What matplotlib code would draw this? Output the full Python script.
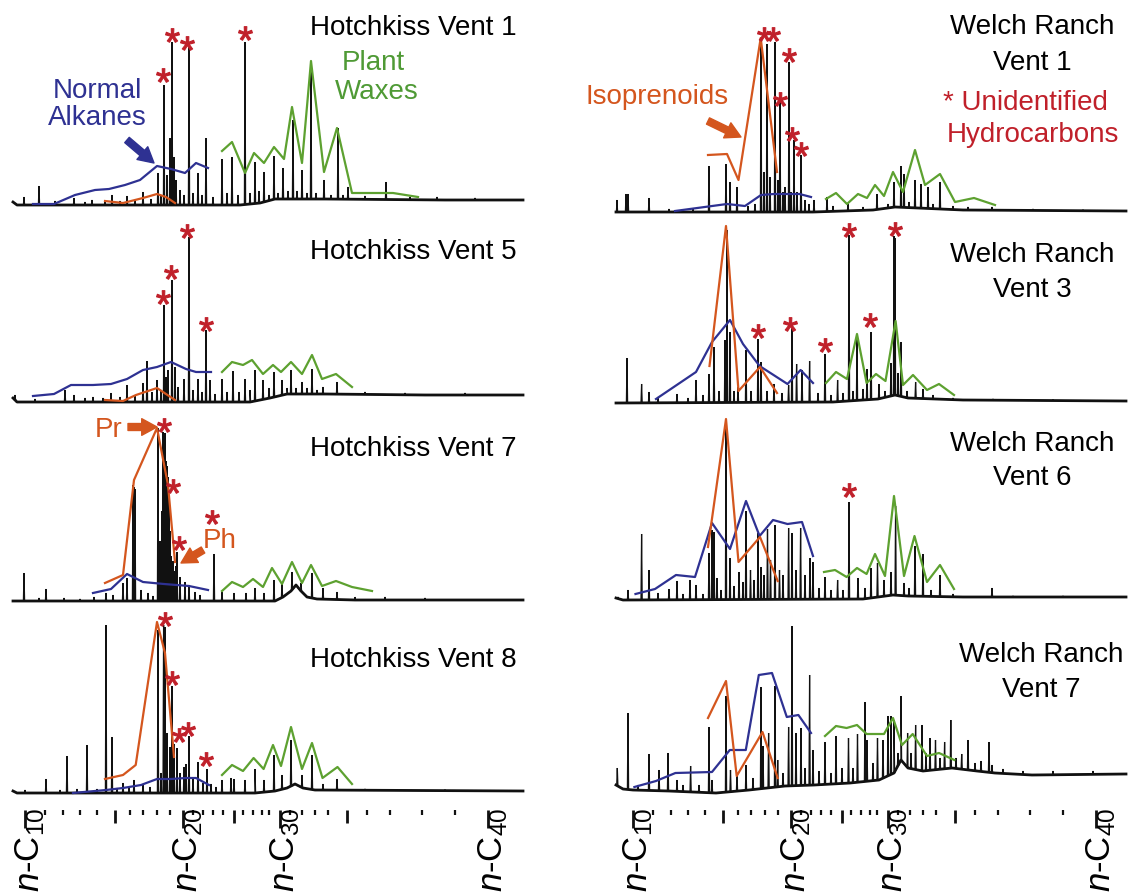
import matplotlib
matplotlib.use("Agg")
import matplotlib.pyplot as plt
import numpy as np

plt.rcParams.update({
    "font.family": ["Liberation Sans", "DejaVu Sans"],
    "font.size": 20,
    "mathtext.fontset": "custom",
    "mathtext.rm": "Liberation Sans",
    "mathtext.it": "Liberation Sans:italic",
    "mathtext.bf": "Liberation Sans:bold",
})

BLACK = "#111111"
BLUE = "#2e3192"
ORANGE = "#d4561e"
GREEN = "#5da130"
GREEN_TXT = "#4f9a35"
RED = "#c0202a"

# retention position of the n-alkanes C10..C40 (px from n-C10)
CARBON = list(range(10, 41))
CARBON_RT = [0, 20, 38, 55, 72, 90, 105, 118, 132, 145, 158, 168, 178, 188, 198, 209,
             218, 228, 237, 244, 255, 265, 277, 290, 303, 322, 342, 365, 397, 430, 463]
AXIS_LABELS = {10: r"$n$-C$_{10}$", 20: r"$n$-C$_{20}$", 30: r"$n$-C$_{30}$", 40: r"$n$-C$_{40}$"}

# ---------------- Hotchkiss Vent 1 ----------------
HV1_BASE = [(-12, 3), (-8, 0), (215, 0), (235, 2), (250, 6), (300, 6), (420, 5), (498, 5)]
HV1_PEAKS = [(-1, 8), (14, 19), (30, 4), (49, 7), (60, 3), (67, 5), (80, 4), (87, 10), (95, 4),
             (102, 9), (110, 5), (118, 13), (126, 6), (133, 32), (136, 10), (139, 120), (142, 30),
             (145, 67), (147, 163), (149, 48), (151, 25), (155, 15), (159, 10), (164, 158),
             (168, 12), (173, 32), (177, 10), (181, 67), (188, 8), (197, 46), (202, 12), (207, 48),
             (213, 10), (220, 163), (225, 12), (230, 43), (234, 14), (239, 33), (244, 10),
             (249, 49), (253, 12), (258, 37), (263, 14), (268, 85), (272, 14), (277, 35),
             (282, 12), (286, 138), (291, 12), (299, 25), (306, 10), (313, 77), (318, 10),
             (323, 18), (340, 9), (361, 23), (385, 8), (412, 8), (450, 7)]
HV1_ALK = [(8, 1), (29, 1), (50, 10), (70, 15), (84, 16), (100, 20), (115, 25), (132, 39),
           (146, 36), (160, 32), (171, 42), (183, 37)]
HV1_ISO = [(80, 4), (98, 2), (118, 7), (132, 11), (141, 8), (150, 2)]
HV1_WAX = [(197, 54), (207, 63), (220, 32), (229, 52), (239, 42), (249, 58), (259, 46),
           (267, 98), (277, 42), (286, 144), (299, 33), (312, 77), (327, 12), (368, 12), (393, 8)]
HV1_STARS = [(138, 130), (147, 170), (162, 162), (220, 172)]

# ---------------- Hotchkiss Vent 5 ----------------
HV5_BASE = [(-12, 4), (-8, 0), (225, 0), (245, 4), (262, 8), (300, 8), (400, 7), (498, 7)]
HV5_PEAKS = [(-10, 7), (10, 3), (40, 12), (49, 7), (60, 4), (68, 5), (78, 4), (86, 9), (95, 5),
             (102, 17), (110, 6), (118, 19), (122, 41), (127, 10), (132, 22), (136, 12),
             (139, 97), (141, 25), (143, 32), (147, 122), (150, 35), (153, 15), (159, 23),
             (164, 165), (168, 12), (173, 23), (177, 10), (181, 72), (185, 22), (190, 8),
             (197, 23), (202, 10), (208, 31), (214, 10), (220, 23), (225, 12), (230, 32),
             (238, 22), (244, 14), (249, 30), (257, 22), (262, 14), (266, 32), (271, 14),
             (277, 20), (282, 14), (287, 33), (292, 12), (298, 15), (312, 20), (340, 10),
             (380, 9), (440, 9)]
HV5_ALK = [(8, 6), (29, 8), (46, 17), (68, 17), (86, 18), (102, 23), (118, 32), (132, 35),
           (146, 40), (161, 33), (171, 30), (186, 30)]
HV5_ISO = [(80, 2), (98, 1), (111, 7), (132, 14), (150, 2)]
HV5_WAX = [(197, 30), (207, 40), (218, 37), (227, 42), (238, 28), (248, 37), (256, 30),
           (266, 40), (277, 28), (287, 47), (297, 23), (311, 28), (327, 15)]
HV5_STARS = [(138, 105), (146, 130), (162, 171), (181, 78)]

# ---------------- Hotchkiss Vent 7 ----------------
HV7_BASE = [(-12, 0), (250, 0), (258, 4), (266, 10), (271, 16), (276, 10), (282, 4),
            (292, 2), (330, 1), (498, 1)]
HV7_PEAKS = [(-1, 28), (14, 3), (21, 12), (39, 3), (55, 2), (69, 4), (81, 8), (88, 6), (98, 18),
             (102, 23), (108, 116), (109, 114), (110, 112), (116, 11), (123, 8), (128, 5),
             (133, 173), (135, 60), (137, 90), (138, 169), (139, 150), (140, 168), (141, 140),
             (142, 135), (143, 124), (144, 100), (145, 70), (146, 45), (147, 32), (148, 40),
             (149, 30), (150, 28), (151, 35), (152, 49), (155, 24), (160, 19), (164, 16),
             (170, 9), (175, 6), (189, 47), (197, 9), (209, 8), (221, 8), (230, 13), (239, 8),
             (249, 21), (257, 19), (267, 29), (276, 18), (287, 28), (298, 13), (312, 9),
             (330, 4), (360, 4), (400, 3)]
HV7_ALK = [(68, 8), (86, 12), (102, 27), (118, 19), (139, 17), (164, 15), (183, 11)]
HV7_ISO = [(80, 18), (98, 26), (109, 121), (132, 173), (143, 116), (150, 39)]
HV7_WAX = [(197, 10), (207, 19), (218, 14), (228, 22), (238, 14), (247, 33), (257, 17),
           (267, 39), (277, 18), (286, 36), (297, 15), (311, 20), (327, 14), (347, 10)]
HV7_STARS = [(138.6, 176), (147.5, 115), (154.3, 58), (186.8, 84)]

# ---------------- Hotchkiss Vent 8 ----------------
HV8_BASE = [(-12, 2), (-8, 0), (230, 0), (250, 2), (262, 5), (270, 9), (278, 5), (290, 3), (498, 2)]
HV8_PEAKS = [(0, 3), (21, 14), (35, 3), (42, 37), (52, 4), (62, 48), (72, 4), (81, 168),
             (87, 56), (92, 5), (98, 10), (104, 6), (109, 13), (118, 9), (125, 6), (133, 163),
             (136, 20), (138.6, 168), (140, 166), (142, 60), (145, 46), (147, 107), (149, 49),
             (152, 45), (155, 20), (159, 26), (161, 29), (164, 57), (168, 14), (173, 31),
             (178, 10), (182, 24), (186, 9), (191, 6), (197, 13), (206, 15), (209, 14),
             (220, 13), (230, 24), (239, 13), (249, 38), (257, 18), (266, 53), (277, 18),
             (287, 38), (298, 9), (312, 14), (340, 4), (420, 3)]
HV8_ALK = [(48, 0), (81, 3), (98, 5), (116, 8), (132, 14), (146, 14), (161, 15), (171, 15), (184, 8)]
HV8_ISO = [(80, 14), (98, 18), (110.7, 28), (132, 171), (140, 140), (149, 36)]
HV8_WAX = [(197, 18), (207, 28), (218, 22), (228.6, 35), (238.6, 24), (248, 48), (256, 27),
           (266, 66), (277, 24), (287, 50), (297.5, 15), (312.5, 26), (327, 9)]
HV8_STARS = [(140, 174), (147, 115), (154, 58), (162.5, 64), (181.4, 34)]

# ---------------- Welch Ranch Vent 1 ----------------
WR1_BASE = [(-17, 0), (180, 0), (240, 2), (262, 5), (285, 4), (330, 2), (493, 1)]
WR1_PEAKS = [(-16, 12), (-7, 18), (-5, 18), (16, 14), (36, 3), (60, 3), (76, 46), (93, 48),
             (97, 30), (104, 25), (115, 6), (122, 8), (128, 168), (131, 40), (134, 168),
             (137, 35), (142, 170), (145, 32), (147, 115), (150, 20), (152, 25), (156, 150),
             (158, 20), (161, 72), (164, 20), (168, 57), (172, 12), (176, 8), (181, 12),
             (194, 15), (200, 6), (215, 8), (230, 5), (244, 18), (255, 8), (261, 30), (268, 46),
             (271, 38), (276, 10), (282, 32), (288, 28), (295, 25), (300, 8), (307, 30),
             (320, 6), (335, 5), (359, 5), (400, 3), (450, 2)]
WR1_ALK = [(42, 1), (94, 8), (112, 6), (128, 17), (141, 18), (166.5, 18), (178, 15)]
WR1_ISO = [(75, 57), (94, 58), (105.5, 32), (127.7, 174), (144, 40)]
WR1_WAX = [(193, 13), (203, 19), (214, 8), (225, 18), (234, 14), (242, 27), (251, 16),
           (260, 40), (270, 20), (282, 62), (292, 27), (307, 38), (322, 10), (341, 14), (362, 7)]
WR1_STARS = [(131.3, 178), (140.3, 178), (147.2, 113), (155.6, 157), (159.2, 78), (167.6, 63)]

# ---------------- Welch Ranch Vent 3 ----------------
WR3_BASE = [(-17, 0), (200, 1), (245, 4), (262, 8), (275, 5), (330, 3), (493, 2)]
WR3_PEAKS = [(-6, 45), (8.6, 19), (16, 11), (25, 6), (44, 9), (55, 5), (63, 23), (70, 8),
             (76, 29), (81, 56), (86, 12), (92, 63), (94, 173), (97, 71), (101, 12), (105, 16),
             (113, 53), (118, 12), (125, 64), (128, 41), (134, 12), (141, 19), (149, 10),
             (155.6, 18), (159, 75), (163.6, 39), (169, 33), (176.6, 42), (185, 10), (192, 49),
             (198, 8), (204.6, 23), (210, 10), (216, 168), (220, 12), (224, 66), (230, 14),
             (234, 34), (238, 71), (246, 19), (252, 12), (258, 40), (261, 167), (262, 165),
             (265, 30), (268, 61), (274, 12), (282.6, 21), (290, 14), (300, 8), (320, 5),
             (360, 4), (420, 3)]
WR3_ALK = [(23, 4), (63, 31), (79, 61), (97, 83), (110, 59), (126.6, 37), (154.5, 19),
           (167.6, 33), (180, 20)]
WR3_ISO = [(76.5, 37), (93, 177), (105.5, 12), (127, 36), (144, 10)]
WR3_WAX = [(193, 20), (203, 31), (214, 24), (224, 69), (233.6, 20), (243, 29), (252.5, 22),
           (262.6, 82), (270, 18), (280, 28), (294, 13), (306, 19), (321, 8)]
WR3_STARS = [(125, 72), (157.4, 79), (192, 58), (216.2, 173), (237.2, 83), (261.5, 174)]

# ---------------- Welch Ranch Vent 6 ----------------
WR6_BASE = [(-17, 2), (-10, 0), (230, 1), (260, 5), (275, 4), (330, 3), (493, 3)]
WR6_PEAKS = [(-15, 3), (-5, 10), (8.6, 66), (16, 30), (25, 7), (36, 11), (44, 19), (50, 6),
             (57, 20), (63, 15), (70, 6), (76, 47), (79, 70), (81, 68), (84, 22), (88, 10),
             (93, 180), (97, 42), (101, 14), (106, 28), (110, 18), (113, 89), (117.5, 30),
             (121, 20), (125, 67), (128, 33), (131, 25), (134.5, 71), (137.5, 40), (142, 75),
             (146.5, 30), (150, 25), (155.6, 72), (159, 67), (163, 30), (167.6, 72), (172, 25),
             (177, 42), (180, 38), (186, 12), (192, 23), (198, 10), (204.6, 20), (210, 10),
             (216, 98), (225, 22), (232, 12), (238, 32), (244.5, 37), (251, 20), (258, 28),
             (262.6, 94), (271, 17), (276, 12), (282, 54), (290, 46), (298, 10), (307, 25),
             (320, 6), (359, 12), (380, 4), (430, 3)]
WR6_ALK = [(2.5, 6), (22, 11), (43, 25), (62, 23), (79, 77), (97, 51), (113, 99), (126.6, 64),
           (140, 80), (154.5, 76), (169, 78), (180, 44)]
WR6_ISO = [(75, 53), (93, 181), (105.5, 38), (127, 63), (144.7, 19)]
WR6_WAX = [(191, 28), (202, 30), (213.6, 23), (224, 32), (233.6, 26), (242, 46), (252, 24),
           (261, 104), (271, 24), (281.5, 64), (294, 18), (307, 35), (321, 11)]
WR6_STARS = [(216, 110)]

# ---------------- Welch Ranch Vent 7 ----------------
WR7_BASE = [(-17, 8), (-10, 4), (0, 3), (36, 2), (83, 0), (116, 3), (152, 7), (181, 8),
            (217, 10), (246, 13), (261, 20), (268, 33), (275, 25), (290, 22), (319, 25),
            (344, 22), (362, 20), (399, 18), (493, 19)]
WR7_PEAKS = [(-15.7, 25), (-5, 80), (5, 8), (16, 39), (26, 23), (35, 40), (44, 13), (50, 8),
             (57.6, 27), (66, 8), (76, 66), (79, 13), (93, 97), (97.5, 23), (104, 20), (113, 28),
             (120, 15), (128, 106), (130, 47), (135.6, 60), (142, 107), (144.7, 33), (150, 20),
             (155.6, 66), (159, 167), (163, 60), (168, 65), (172, 25), (176.6, 118), (180, 43),
             (186, 22), (192, 51), (198, 20), (203, 57), (209, 25), (215.5, 55), (220, 25),
             (224.5, 59), (232, 91), (234, 53), (240, 30), (244.5, 55), (250, 53), (255, 77),
             (258, 77), (261, 73), (265, 40), (268, 97), (274.6, 60), (278, 40), (282.6, 68),
             (289, 68), (293, 40), (297, 55), (302.5, 53), (307, 35), (311.6, 51), (317.8, 73),
             (323, 35), (328.7, 39), (335, 53), (342, 30), (348, 32), (356, 51), (359, 28),
             (370, 24), (390, 22), (420, 22), (460, 22)]
WR7_ALK = [(1.4, 6), (23, 12), (42.4, 20), (79, 21), (96.8, 43), (112.8, 43), (125.8, 118),
           (139, 120), (153.8, 76), (165.4, 78), (178, 60)]
WR7_ISO = [(75, 75), (93, 112), (103.7, 17), (129.5, 61), (144.7, 15)]
WR7_WAX = [(192, 57), (203, 67), (213.6, 65), (224, 68), (233.6, 59), (251, 59), (260, 75),
           (269, 48), (279.7, 59), (294, 37), (306, 40), (321.4, 33)]
WR7_STARS = []

# column: (left px, right px, px of n-C10); panel baselines in px
LEFT_COL = (0, 560, 25)
RIGHT_COL = (560, 1129, 633)

W, H = 1129, 893
fig = plt.figure(figsize=(W / 100, H / 100), dpi=100)


def panel_axes(col, base_y):
    x0, x1, c10 = col
    ax = fig.add_axes([x0 / W, 1 - (base_y + 10) / H, (x1 - x0) / W, 215 / H])
    ax.set_xlim(x0 - c10, x1 - c10)
    ax.set_ylim(-10, 205)
    ax.axis("off")
    return ax


def draw_panel(ax, base, peaks, alk, iso, wax, stars):
    brt = [p[0] for p in base]
    bh = [p[1] for p in base]
    xs, ys = list(brt), list(bh)
    for rt, h in peaks:
        b = float(np.interp(rt, brt, bh))
        xs += [rt - 0.6, rt, rt + 0.6]
        ys += [b, max(h, b + 1), b]
    order = np.argsort(xs, kind="stable")
    ax.plot(np.array(xs)[order], np.array(ys)[order], color=BLACK, lw=0.9,
            solid_joinstyle="miter", clip_on=False)
    ax.plot(brt, bh, color=BLACK, lw=2.0, clip_on=False)
    for series, color in ((alk, BLUE), (iso, ORANGE), (wax, GREEN)):
        if series:
            ax.plot([p[0] for p in series], [p[1] for p in series], color=color, lw=1.6,
                    clip_on=False)
    if stars:
        ax.plot([p[0] for p in stars], [p[1] for p in stars], ls="none", marker="$*$",
                ms=10, color=RED, mec=RED, mew=0.8, clip_on=False)


def arrow(ax, tail, head, color):
    ax.annotate("", xy=head, xytext=tail,
                arrowprops=dict(arrowstyle="simple,head_length=0.55,head_width=0.6,tail_width=0.25",
                                mutation_scale=20, color=color, shrinkA=0, shrinkB=0))


# ---- left column ----
ax = panel_axes(LEFT_COL, 205)
draw_panel(ax, HV1_BASE, HV1_PEAKS, HV1_ALK, HV1_ISO, HV1_WAX, HV1_STARS)
ax.text(492, 177, "Hotchkiss Vent 1", ha="right", va="center")
ax.text(72, 114, "Normal", ha="center", va="center", color=BLUE)
ax.text(72, 87, "Alkanes", ha="center", va="center", color=BLUE)
ax.text(348, 142, "Plant", ha="center", va="center", color=GREEN_TXT)
ax.text(352, 113, "Waxes", ha="center", va="center", color=GREEN_TXT)
arrow(ax, (102, 65), (129, 42), BLUE)

ax = panel_axes(LEFT_COL, 402)
draw_panel(ax, HV5_BASE, HV5_PEAKS, HV5_ALK, HV5_ISO, HV5_WAX, HV5_STARS)
ax.text(492, 150, "Hotchkiss Vent 5", ha="right", va="center")

ax = panel_axes(LEFT_COL, 601)
draw_panel(ax, HV7_BASE, HV7_PEAKS, HV7_ALK, HV7_ISO, HV7_WAX, HV7_STARS)
ax.text(492, 152, "Hotchkiss Vent 7", ha="right", va="center")
ax.text(84, 171, "Pr", ha="center", va="center", color=ORANGE)
arrow(ax, (103, 174), (132, 174), ORANGE)
ax.text(195, 60, "Ph", ha="center", va="center", color=ORANGE)
arrow(ax, (178, 51), (156, 38), ORANGE)

ax = panel_axes(LEFT_COL, 793)
draw_panel(ax, HV8_BASE, HV8_PEAKS, HV8_ALK, HV8_ISO, HV8_WAX, HV8_STARS)
ax.text(492, 133, "Hotchkiss Vent 8", ha="right", va="center")

# ---- right column ----
ax = panel_axes(RIGHT_COL, 212)
draw_panel(ax, WR1_BASE, WR1_PEAKS, WR1_ALK, WR1_ISO, WR1_WAX, WR1_STARS)
ax.text(399, 185, "Welch Ranch", ha="center", va="center")
ax.text(399, 149, "Vent 1", ha="center", va="center")
ax.text(24, 115, "Isoprenoids", ha="center", va="center", color=ORANGE)
arrow(ax, (75, 91), (108, 75), ORANGE)
ax.text(392, 109, "* Unidentified", ha="center", va="center", color=RED)
ax.text(400, 77, "Hydrocarbons", ha="center", va="center", color=RED)

ax = panel_axes(RIGHT_COL, 403)
draw_panel(ax, WR3_BASE, WR3_PEAKS, WR3_ALK, WR3_ISO, WR3_WAX, WR3_STARS)
ax.text(399, 148, "Welch Ranch", ha="center", va="center")
ax.text(399, 113, "Vent 3", ha="center", va="center")

ax = panel_axes(RIGHT_COL, 600)
draw_panel(ax, WR6_BASE, WR6_PEAKS, WR6_ALK, WR6_ISO, WR6_WAX, WR6_STARS)
ax.text(399, 156, "Welch Ranch", ha="center", va="center")
ax.text(399, 122, "Vent 6", ha="center", va="center")

ax = panel_axes(RIGHT_COL, 793)
draw_panel(ax, WR7_BASE, WR7_PEAKS, WR7_ALK, WR7_ISO, WR7_WAX, WR7_STARS)
ax.text(408, 138, "Welch Ranch", ha="center", va="center")
ax.text(408, 103, "Vent 7", ha="center", va="center")

# ---- carbon-number axes ----
for x0, x1, c10 in (LEFT_COL, RIGHT_COL):
    axt = fig.add_axes([x0 / W, 0, (x1 - x0) / W, 93 / H])
    axt.set_xlim(x0 - c10, x1 - c10)
    axt.set_ylim(893, 800)
    axt.axis("off")
    for c, rt in zip(CARBON, CARBON_RT):
        end = 828 if c % 10 == 0 else (823 if c % 5 == 0 else 815)
        axt.vlines(rt, 810, end, color=BLACK, lw=2.0 if c % 5 == 0 else 1.6)
        if c in AXIS_LABELS:
            axt.text(rt + 5, 808, AXIS_LABELS[c], rotation=90, ha="center", va="top",
                     fontsize=25, clip_on=False)

fig.savefig("out.png", dpi=100)
